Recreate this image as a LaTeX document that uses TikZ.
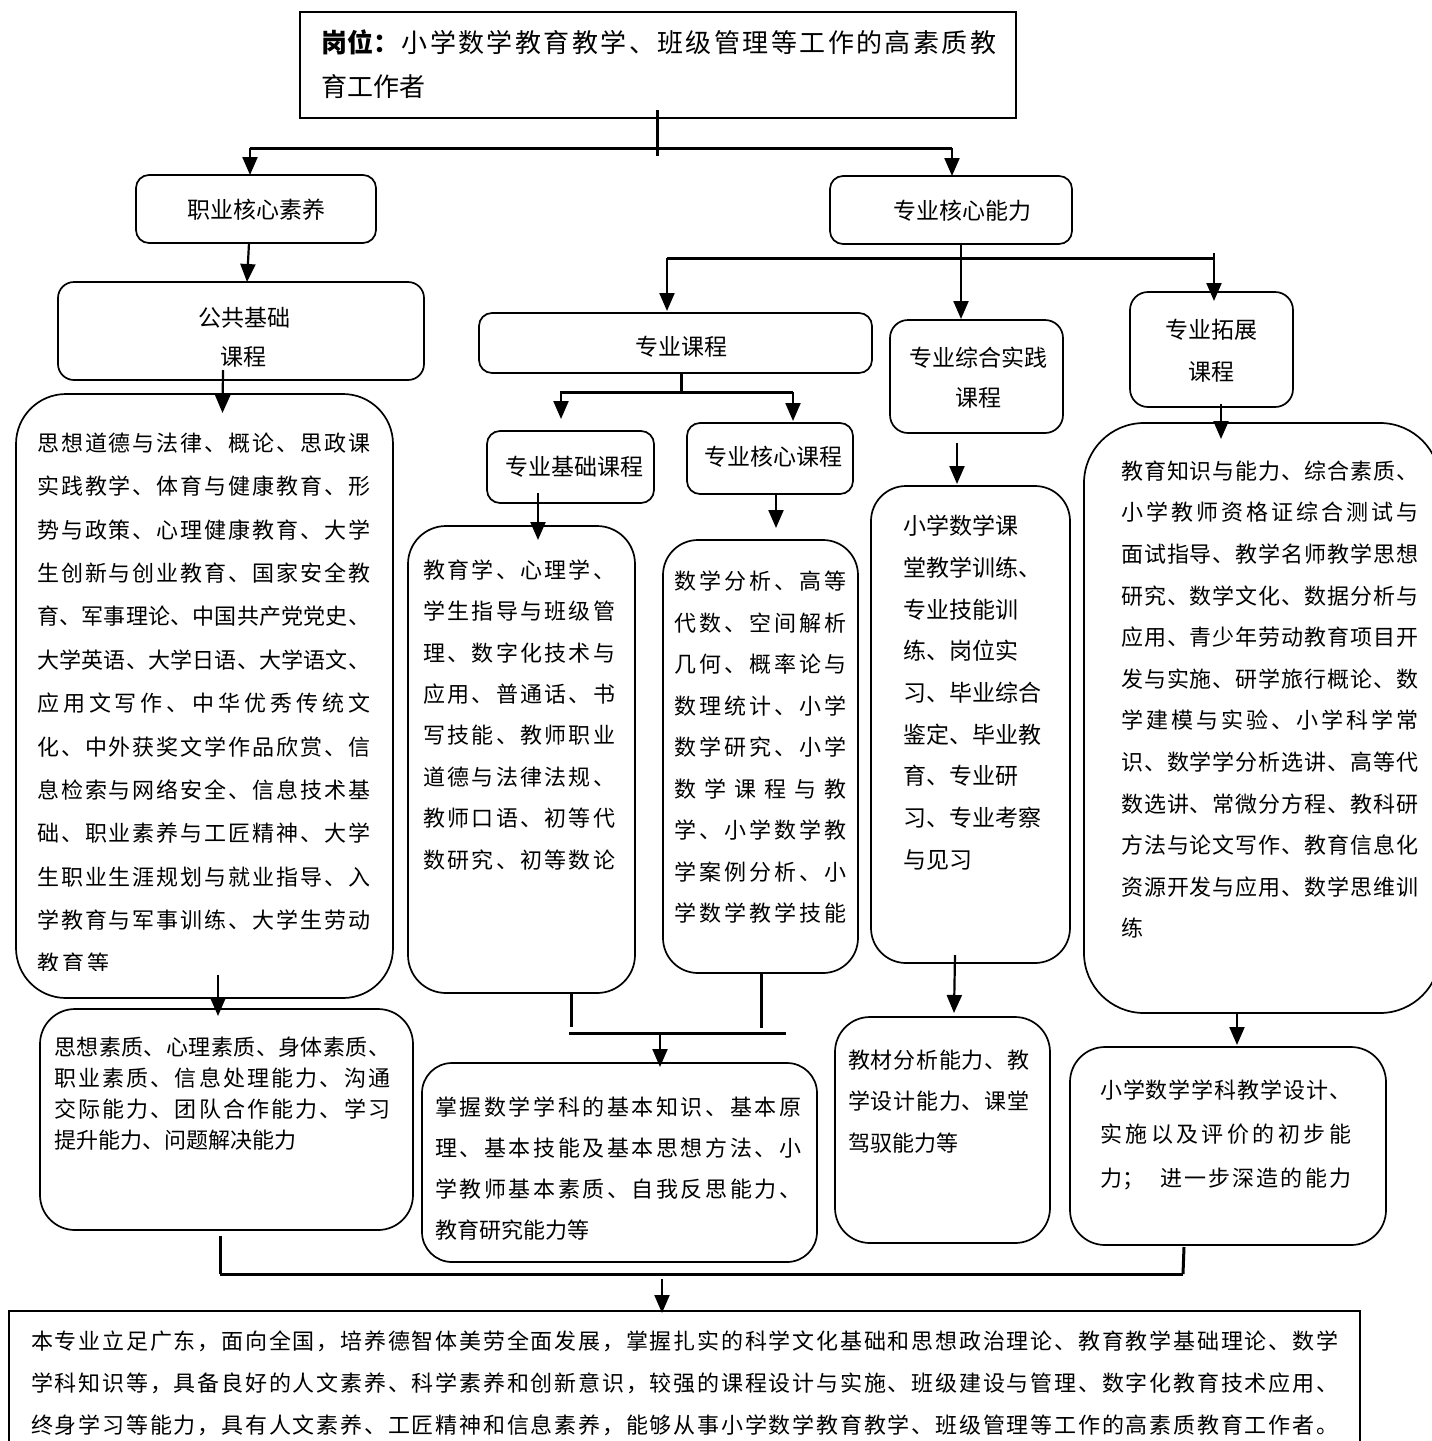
\documentclass[tikz,border=0pt]{standalone}
\usepackage{fontspec}
\setmainfont{Noto Sans CJK SC}
\usetikzlibrary{arrows.meta,calc}
\makeatletter
\newcommand\spreadit[1]{\@tfor\sp@c:=#1\do{\sp@c\hskip 0pt plus 1fil\relax}\unskip}
\makeatother
\newcommand\jl[2]{\makebox[#1pt][s]{\spreadit{#2}}}
\newcommand\topline{\makebox[675pt][s]{{\bfseries 岗位：}\hskip 0pt plus 1fil\relax\spreadit{小学数学教育教学、班级管理等工作的高素质教}}}
\newcommand\txtlines[6]{%
  \foreach \tline [count=\i from 0] in {#6}{%
    \node[anchor=base west, inner sep=0pt, font=\fontsize{#2}{#2}\selectfont] (#1-\i) at ({#3},{#4+0.38*#2+\i*#5}) {\tline};}}
\begin{document}
\begin{tikzpicture}[x=1pt,y=-1pt,
  rbox/.style={draw, line width=1.7pt, rounded corners=#1, inner sep=0pt, outer sep=0pt},
  rbox/.default=13pt,
  sbox/.style={draw, line width=1.5pt, inner sep=0pt, outer sep=0pt},
  conn/.style={line width=3pt},
  arr/.style={line width=2.2pt, -{Triangle[length=18pt,width=15pt]}},
  lab/.style={anchor=base, inner sep=0pt, font=\fontsize{23}{23}\selectfont}]
\useasboundingbox (0,0) rectangle (1432,1441);

% ---------- boxes ----------
\node[sbox, minimum width=716pt, minimum height=106pt] (top) at (658,65) {};
\node[rbox, minimum width=240pt, minimum height=68pt] (zy) at (256,209) {};
\node[rbox, minimum width=242pt, minimum height=68pt] (zn) at (951,210) {};
\node[rbox=16pt, minimum width=366pt, minimum height=98pt] (gg) at (241,331) {};
\node[rbox, minimum width=393pt, minimum height=60pt] (zk) at (675.5,343) {};
\node[rbox=18pt, minimum width=173pt, minimum height=113pt] (zs) at (976.5,376.5) {};
\node[rbox=18pt, minimum width=163pt, minimum height=115pt] (zt) at (1211.5,349.5) {};
\node[rbox=50pt, minimum width=377pt, minimum height=604pt] (b1) at (204.5,696) {};
\node[rbox, minimum width=167pt, minimum height=72pt] (zj) at (570.5,467) {};
\node[rbox, minimum width=166pt, minimum height=71pt] (zh) at (770,458.5) {};
\node[rbox=38pt, minimum width=227pt, minimum height=467pt] (b2) at (521.5,759.5) {};
\node[rbox=35pt, minimum width=195pt, minimum height=433pt] (b3) at (760.5,756.5) {};
\node[rbox=35pt, minimum width=199pt, minimum height=477pt] (b4) at (970.5,724.5) {};
\node[rbox=60pt, minimum width=356pt, minimum height=590pt] (b5) at (1262,718) {};
\node[rbox=35pt, minimum width=373pt, minimum height=221pt] (c1) at (226.5,1119.5) {};
\node[rbox=30pt, minimum width=395pt, minimum height=199pt] (c2) at (619.5,1162.5) {};
\node[rbox=35pt, minimum width=215pt, minimum height=226pt] (c3) at (942.5,1130) {};
\node[rbox=35pt, minimum width=316pt, minimum height=198pt] (c4) at (1228,1146) {};
\node[sbox, minimum width=1351pt, minimum height=149pt] (bot) at (684.5,1385.5) {};

% ---------- labels ----------
\txtlines{topt}{26}{321}{43}{44}{\topline,育工作者}
\node[lab] (zy-t) at (256,218.7) {职业核心素养};
\node[lab] (zn-t) at (962,219.7) {专业核心能力};
\node[lab] (gg-t1) at (244,326.7) {公共基础};
\begin{scope}
\clip (200,330) rectangle (290,366);
\node[lab] (gg-t2) at (243,365.7) {课程};
\end{scope}
\node[lab] (zk-t) at (681,355.7) {专业课程};
\node[lab] (zs-t1) at (978.5,366.7) {专业综合实践};
\node[lab] (zs-t2) at (978.5,406.7) {课程};
\node[lab] (zt-t1) at (1211,338.7) {专业拓展};
\node[lab] (zt-t2) at (1211,380.4) {课程};
\node[lab] (zj-t) at (574,475.7) {专业基础课程};
\node[lab] (zh-t) at (773,465.7) {专业核心课程};

% ---------- box texts ----------
\txtlines{b1t}{22}{37}{443}{43.4}{%
\jl{333}{思想道德与法律、概论、思政课},
\jl{333}{实践教学、体育与健康教育、形},
\jl{333}{势与政策、心理健康教育、大学},
\jl{333}{生创新与创业教育、国家安全教},
\jl{333}{育、军事理论、中国共产党党史、},
\jl{333}{大学英语、大学日语、大学语文、},
\jl{333}{应用文写作、中华优秀传统文},
\jl{333}{化、中外获奖文学作品欣赏、信},
\jl{333}{息检索与网络安全、信息技术基},
\jl{333}{础、职业素养与工匠精神、大学},
\jl{333}{生职业生涯规划与就业指导、入},
\jl{333}{学教育与军事训练、大学生劳动}}
\begin{scope}
\clip (30,940) rectangle (150,970);
\node[anchor=base west, inner sep=0pt, font=\fontsize{22}{22}\selectfont] (b1t-12) at (37,971.2) {\jl{72}{教育等}};
\end{scope}
\txtlines{b2t}{22}{423}{570}{41.4}{%
\jl{192}{教育学、心理学、},
\jl{192}{学生指导与班级管},
\jl{192}{理、数字化技术与},
\jl{192}{应用、普通话、书},
\jl{192}{写技能、教师职业},
\jl{192}{道德与法律法规、},
\jl{192}{教师口语、初等代},
\jl{192}{数研究、初等数论}}
\txtlines{b3t}{22}{674}{581.6}{41.5}{%
\jl{172}{数学分析、高等},
\jl{172}{代数、空间解析},
\jl{172}{几何、概率论与},
\jl{172}{数理统计、小学},
\jl{172}{数学研究、小学},
\jl{172}{数学课程与教},
\jl{172}{学、小学数学教},
\jl{172}{学案例分析、小},
\jl{172}{学数学教学技能}}
\txtlines{b4t}{23}{903}{526}{41.7}{%
小学数学课,堂教学训练、,专业技能训,练、岗位实,习、毕业综合,鉴定、毕业教,育、专业研,习、专业考察,与见习}
\txtlines{b5t}{22}{1121}{471}{41.6}{%
\jl{297}{教育知识与能力、综合素质、},
\jl{297}{小学教师资格证综合测试与},
\jl{297}{面试指导、教学名师教学思想},
\jl{297}{研究、数学文化、数据分析与},
\jl{297}{应用、青少年劳动教育项目开},
\jl{297}{发与实施、研学旅行概论、数},
\jl{297}{学建模与实验、小学科学常},
\jl{297}{识、数学学分析选讲、高等代},
\jl{297}{数选讲、常微分方程、教科研},
\jl{297}{方法与论文写作、教育信息化},
\jl{297}{资源开发与应用、数学思维训},
练}
\txtlines{c1t}{22}{54}{1047}{31}{%
\jl{336}{思想素质、心理素质、身体素质、},
\jl{336}{职业素质、信息处理能力、沟通},
\jl{336}{交际能力、团队合作能力、学习},
提升能力、问题解决能力}
\txtlines{c2t}{22}{435}{1107}{41}{%
\jl{366}{掌握数学学科的基本知识、基本原},
\jl{366}{理、基本技能及基本思想方法、小},
\jl{366}{学教师基本素质、自我反思能力、},
教育研究能力等}
\txtlines{c3t}{22}{848}{1060}{41.5}{%
\jl{181}{教材分析能力、教},\jl{181}{学设计能力、课堂},驾驭能力等}
\txtlines{c4t}{22}{1100}{1090}{44}{%
\jl{251}{小学数学学科教学设计、},
\jl{251}{实施以及评价的初步能},
力；\hspace*{16pt}\jl{191}{进一步深造的能力}}
\txtlines{bott}{22}{31}{1341}{42}{%
\jl{1307}{本专业立足广东，面向全国，培养德智体美劳全面发展，掌握扎实的科学文化基础和思想政治理论、教育教学基础理论、数学},
\jl{1307}{学科知识等，具备良好的人文素养、科学素养和创新意识，较强的课程设计与实施、班级建设与管理、数字化教育技术应用、},
\jl{1307}{终身学习等能力，具有人文素养、工匠精神和信息素养，能够从事小学数学教育教学、班级管理等工作的高素质教育工作者。}}

% ---------- connectors ----------
\coordinate (h1L) at (250,148);
\coordinate (h1M) at (657,148);
\coordinate (h1R) at (952,148);
\draw[conn] ($(top.south -| h1M)+(0,-8)$) -- ($(h1M)+(0,8)$);
\draw[conn] (h1L) -- (h1R);
\draw[arr] (h1L) -- (h1L |- zy.north);
\draw[arr] (h1R) -- (h1R |- zn.north);
\draw[arr] ($(zy.south)+(-7,0)$) -- ($(gg.north)+(6,0)$);
\draw[arr] ($(gg.south)+(-18,-10)$) -- ($(b1.north)+(18,19)$);
\draw[arr] ($(zn.south)+(10,0)$) -- ($(zs.north)+(-15.5,-1)$);
\coordinate (h2L) at (667,258);
\coordinate (h2R) at (1214,258);
\draw[conn] (h2L) -- (h2R);
\draw[arr] (h2L) -- ($(h2L |- zk.north)+(0,-2)$);
\draw[arr] ($(h2R)+(0,-5)$) -- ($(h2R |- zt.north)+(0,9)$);
\coordinate (h3L) at (561,392);
\coordinate (h3M) at (681,392);
\coordinate (h3R) at (793,392);
\draw[conn] (zk.south -| h3M) -- (h3M);
\draw[conn] ($(h3L)+(-1,0)$) -- (h3R);
\draw[arr] (h3L) -- ($(h3L |- zj.north)+(0,-12)$);
\draw[arr] (h3R) -- ($(h3R |- zh.north)+(0,-2)$);
\draw[arr] ($(zj.south)+(-32.5,-10)$) -- ($(b2.north)+(16.5,14)$);
\draw[arr] ($(zh.south)+(6,0)$) -- ($(b3.north)+(15.5,-12)$);
\draw[arr] ($(zs.south)+(-19.5,10)$) -- ($(b4.north)+(-13.5,-2)$);
\draw[arr] ($(zt.south)+(9.5,-3)$) -- ($(b5.north)+(-41,16)$);
\draw[arr] ($(b1.south)+(13.5,-23)$) -- ($(c1.north)+(-8.5,7)$);
\coordinate (h4L) at (569,1033);
\coordinate (h4M) at (660,1033);
\coordinate (h4R) at (786,1033);
\draw[conn] ($(b2.south)+(49.5,0)$) -- ($(h4L)+(2,-6)$);
\draw[conn] ($(b3.south)+(0.5,0)$) -- ($(h4R)+(-25,-5)$);
\draw[conn] (h4L) -- (h4R);
\draw[arr] (h4M) -- ($(h4M |- c2.north)+(0,4)$);
\draw[arr] ($(b4.south)+(-15.5,-8)$) -- ($(c3.north)+(11.5,-4)$);
\draw[arr] ($(b5.south)+(-25,0)$) -- ($(c4.north)+(9,-2)$);
\coordinate (h5L) at (220,1274);
\coordinate (h5M) at (662,1274);
\coordinate (h5R) at (1183,1274);
\draw[conn] ($(c1.south)+(-6.5,6)$) -- (h5L);
\draw[conn] ($(c4.south)+(-44,2)$) -- (h5R);
\draw[conn] (h5L) -- (h5R);
\draw[arr] ($(h5M)+(0,5)$) -- ($(h5M |- bot.north)+(0,2)$);
\end{tikzpicture}
\end{document}
